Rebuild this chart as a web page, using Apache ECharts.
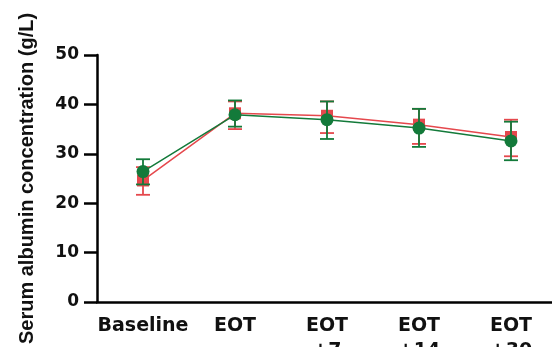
<!DOCTYPE html>
<html><head><meta charset="utf-8">
<script src="https://cdn.jsdelivr.net/npm/echarts@6/dist/echarts.min.js"></script>
<style>html,body{margin:0;padding:0;background:#fff}#c{width:552px;height:347px}</style>
</head><body><div id="c"></div>
<script>
var categories = ['Baseline', 'EOT', 'EOT\n+7', 'EOT\n+14', 'EOT\n+30'];
var yTicks = [0, 10, 20, 30, 40, 50];
var redMean = [24.6, 38.2, 37.7, 35.9, 33.4];
var redLow = [21.7, 35.0, 34.2, 32.0, 29.5];
var redHigh = [27.3, 40.6, 40.6, 39.1, 36.9];
var greenMean = [26.4, 37.9, 36.9, 35.2, 32.6];
var greenLow = [23.8, 35.5, 33.0, 31.4, 28.7];
var greenHigh = [28.9, 40.8, 40.6, 39.1, 36.5];

var RED = '#e5484d', GREEN = '#137a3a';

function errSeries(low, high, color, z) {
  return {
    type: 'custom', z: z,
    data: low.map(function (l, i) { return [i, l, high[i]]; }),
    renderItem: function (params, api) {
      var x = api.value(0);
      var p1 = api.coord([x, api.value(1)]);
      var p2 = api.coord([x, api.value(2)]);
      var w = 7;
      var st = { stroke: color, lineWidth: 1.8 };
      return { type: 'group', children: [
        { type: 'line', shape: { x1: p1[0], y1: p1[1], x2: p2[0], y2: p2[1] }, style: st },
        { type: 'line', shape: { x1: p1[0] - w, y1: p1[1], x2: p1[0] + w, y2: p1[1] }, style: st },
        { type: 'line', shape: { x1: p2[0] - w, y1: p2[1], x2: p2[0] + w, y2: p2[1] }, style: st }
      ]};
    }
  };
}

var chart = echarts.init(document.getElementById('c'));
chart.setOption({
  animation: false,
  grid: { left: 97, top: 55, bottom: 45, right: -5, containLabel: false, outerBoundsMode: 'none' },
  xAxis: {
    type: 'category', data: categories, boundaryGap: true,
    axisLine: { lineStyle: { color: '#000', width: 2.5 } },
    axisTick: { alignWithLabel: true, length: 10, lineStyle: { color: '#000', width: 2.5 } },
    axisLabel: { color: '#111', fontWeight: 'bold', fontSize: 19, fontFamily: 'DejaVu Sans', margin: 12, lineHeight: 25, interval: 0 }
  },
  yAxis: {
    type: 'value', min: yTicks[0], max: yTicks[yTicks.length - 1], interval: 10,
    name: 'Serum albumin concentration (g/L)', nameLocation: 'middle', nameGap: 60,
    nameTextStyle: { color: '#111', fontWeight: 'bold', fontSize: 20, fontFamily: 'Liberation Sans' },
    splitLine: { show: false },
    axisLine: { show: true, lineStyle: { color: '#000', width: 2.5 } },
    axisTick: { show: true, length: 13, lineStyle: { color: '#000', width: 2.5 } },
    axisLabel: { color: '#111', fontWeight: 'bold', fontSize: 17, fontFamily: 'DejaVu Sans', margin: 18 }
  },
  series: [
    errSeries(redLow, redHigh, RED, 2),
    { type: 'line', data: redMean, z: 3, symbol: 'rect', symbolSize: 12,
      itemStyle: { color: RED }, lineStyle: { color: RED, width: 1.5 } },
    errSeries(greenLow, greenHigh, GREEN, 4),
    { type: 'line', data: greenMean, z: 5, symbol: 'circle', symbolSize: 13,
      itemStyle: { color: GREEN }, lineStyle: { color: GREEN, width: 1.5 } }
  ]
});
</script></body></html>
